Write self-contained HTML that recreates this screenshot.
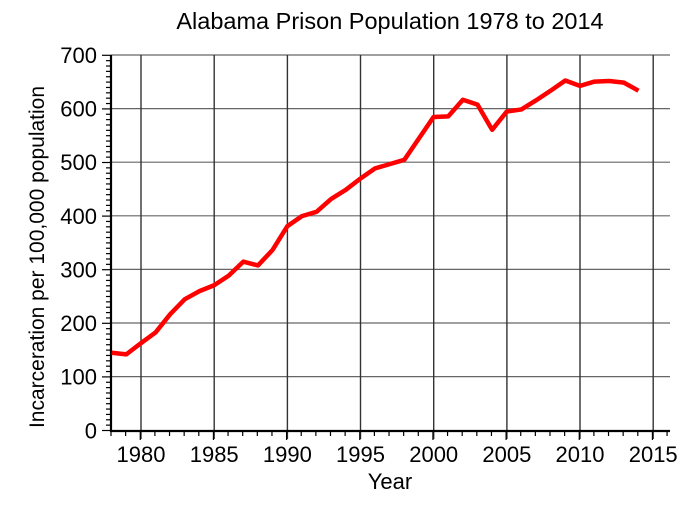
<!DOCTYPE html>
<html><head><style>body{margin:0;background:#fff}svg{display:block}text{font-family:"Liberation Sans",sans-serif;fill:#000}</style></head>
<body>
<svg width="685" height="512" viewBox="0 0 685 512" xmlns="http://www.w3.org/2000/svg">
<text x="390" y="29" font-size="23.5" text-anchor="middle">Alabama Prison Population 1978 to 2014</text>
<g stroke="#666" stroke-width="1.2">
<line x1="111" y1="55" x2="670" y2="55"/><line x1="111" y1="108.6" x2="670" y2="108.6"/><line x1="111" y1="162.2" x2="670" y2="162.2"/><line x1="111" y1="215.8" x2="670" y2="215.8"/><line x1="111" y1="269.4" x2="670" y2="269.4"/><line x1="111" y1="323" x2="670" y2="323"/><line x1="111" y1="376.6" x2="670" y2="376.6"/>
</g>
<g stroke="#333" stroke-width="1.4">
<line x1="141" y1="55" x2="141" y2="439"/><line x1="214.2" y1="55" x2="214.2" y2="439"/><line x1="287.4" y1="55" x2="287.4" y2="439"/><line x1="360.5" y1="55" x2="360.5" y2="439"/><line x1="433.7" y1="55" x2="433.7" y2="439"/><line x1="506.9" y1="55" x2="506.9" y2="439"/><line x1="580" y1="55" x2="580" y2="439"/><line x1="653.2" y1="55" x2="653.2" y2="439"/>
</g>
<g id="xt" stroke="#000" stroke-width="1.2"></g>
<g id="yt" stroke="#000" stroke-width="1.2"></g>
<line x1="111" y1="55" x2="111" y2="432" stroke="#000" stroke-width="2.2"/>
<line x1="110" y1="431" x2="670" y2="431" stroke="#000" stroke-width="2.2"/>
<g font-size="22" text-anchor="end">
<text x="97" y="63">700</text><text x="97" y="116.6">600</text><text x="97" y="170.2">500</text><text x="97" y="223.8">400</text><text x="97" y="277.4">300</text><text x="97" y="331">200</text><text x="97" y="384.6">100</text><text x="97" y="438.5">0</text>
</g>
<g font-size="22" text-anchor="middle">
<text x="141" y="462">1980</text><text x="214.2" y="462">1985</text><text x="287.4" y="462">1990</text><text x="360.5" y="462">1995</text><text x="433.7" y="462">2000</text><text x="506.9" y="462">2005</text><text x="580" y="462">2010</text><text x="653.2" y="462">2015</text>
<text x="390" y="489">Year</text>
</g>
<text font-size="21" text-anchor="middle" transform="translate(44 257) rotate(-90)">Incarceration per 100,000 population</text>
<polyline fill="none" stroke="#f00" stroke-width="4.5" stroke-linejoin="round" vector-effect="non-scaling-stroke" transform="matrix(14.633,0,0,-0.536,-28832.4,430.5)" points="1978,145 1979,142 1980,163 1981,183 1982,217 1983,245 1984,260 1985,271 1986,289 1987,315 1988,308 1989,337 1990,381 1991,400 1992,408 1993,432 1994,449 1995,470 1996,489 1997,497 1998,505 1999,545 2000,585 2001,586 2002,617 2003,608 2004,561 2005,595 2006,599 2007,616 2008,634 2009,653 2010,643 2011,651 2012,652 2013,649 2014,634"/>
<script>
var ns="http://www.w3.org/2000/svg",xt=document.getElementById("xt"),yt=document.getElementById("yt");
for(var y=1978;y<=2016;y++){var x=111+14.633*(y-1978),l=document.createElementNS(ns,"line");l.setAttribute("x1",x);l.setAttribute("x2",x);l.setAttribute("y1",431);l.setAttribute("y2",y%5?436:440);xt.appendChild(l);}
for(var v=0;v<=700;v+=10){var yy=430.5-0.536*v,l=document.createElementNS(ns,"line");l.setAttribute("y1",yy);l.setAttribute("y2",yy);l.setAttribute("x2",111);l.setAttribute("x1",v%100?106:102);yt.appendChild(l);}
</script>
</svg>
</body></html>
